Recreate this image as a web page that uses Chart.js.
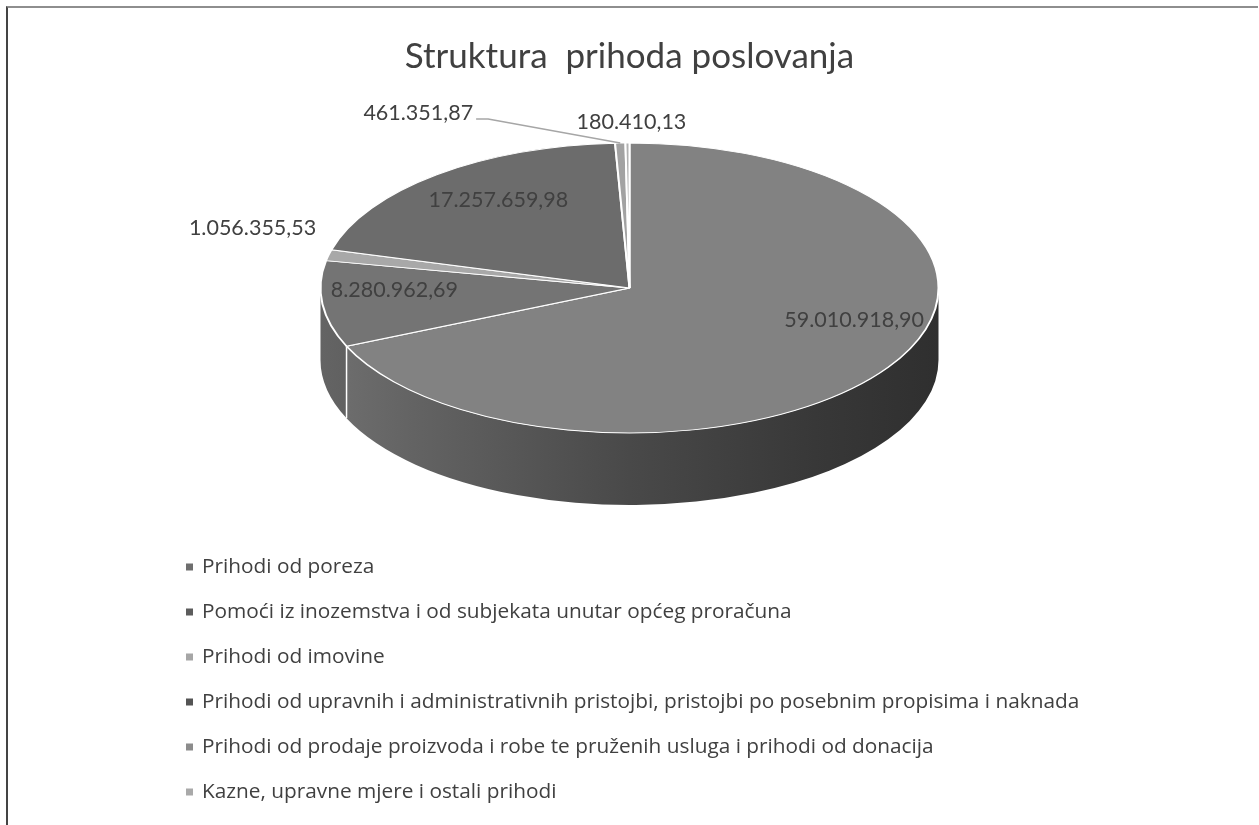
<!DOCTYPE html>
<html><head><meta charset="utf-8">
<script src="https://cdn.jsdelivr.net/npm/chart.js@4/dist/chart.umd.min.js"></script>
<style>
html,body{margin:0;padding:0;background:#fff;}
#wrap{position:relative;width:1259px;height:825px;overflow:hidden;}
#frame{position:absolute;left:6px;top:6px;right:1px;bottom:-4px;border-top:2px solid #8e8e8e;border-left:2px solid #444;pointer-events:none;}
canvas{display:block;}
</style></head><body>
<div id="wrap"><canvas id="c" width="1259" height="825"></canvas><div id="frame"></div></div>
<script>
// ---- data ----
const categories = [
  'Prihodi od poreza',
  'Pomoći iz inozemstva i od subjekata unutar općeg proračuna',
  'Prihodi od imovine',
  'Prihodi od upravnih i administrativnih pristojbi, pristojbi po posebnim propisima i naknada',
  'Prihodi od prodaje proizvoda i robe te pruženih usluga i prihodi od donacija',
  'Kazne, upravne mjere i ostali prihodi'
];
const values = [59010918.90, 8280962.69, 1056355.53, 17257659.98, 461351.87, 180410.13];
const chartTitle = 'Struktura  prihoda poslovanja';

// ---- styles ----
const sliceColors  = ['#828282', '#747474', '#a8a8a8', '#6c6c6c', '#a2a2a2', '#b2b2b2'];
const legendColors = ['#6e6e6e', '#5c5c5c', '#a6a6a6', '#545454', '#8c8c8c', '#a9a9a9'];
const labelOffsets = [[-34, -47], [72, -14], [-76, -27], [62, 25], [-202, -30], [4, -21]];
const labelLeaders = [false, false, false, false, true, false];
const PIE_CY = 288, TILT = 145 / 309, DEPTH = 72, RADIUS = 309;
const FONT = 'Lato, "Open Sans", sans-serif';
const LEGEND_FONT = '"Open Sans", Lato, sans-serif';
const TEXT_COLOR = '#404040';

function fmt(v) {
  const [i, d] = v.toFixed(2).split('.');
  return i.replace(/\B(?=(\d{3})+(?!\d))/g, '.') + ',' + d;
}
function shade(hex, f) {
  const n = parseInt(hex.slice(1), 16);
  const c = Math.round(((n >> 16) & 255) * f);
  return 'rgb(' + c + ',' + c + ',' + c + ')';
}

let geom = null;
const pie3d = {
  id: 'pie3d',
  beforeDatasetsDraw(chart) {
    const ctx = chart.ctx;
    const meta = chart.getDatasetMeta(0);
    const p0 = meta.data[0].getProps(['x', 'y', 'outerRadius'], true);
    const cx = p0.x, cy0 = p0.y, r = p0.outerRadius, ry = r * TILT, cy = PIE_CY;
    geom = {cx, cy, r, ry};
    // side walls (front half only)
    meta.data.forEach((arc, i) => {
      const {startAngle, endAngle} = arc.getProps(['startAngle', 'endAngle'], true);
      const a1 = Math.max(startAngle, 0), a2 = Math.min(endAngle, Math.PI);
      if (a2 <= a1) return;
      const g = ctx.createLinearGradient(cx - r, 0, cx + r, 0);
      [[0, 0.86], [0.15, 0.76], [0.5, 0.56], [0.8, 0.43], [1, 0.36]].forEach(s => g.addColorStop(s[0], shade(sliceColors[i], s[1])));
      ctx.save();
      ctx.fillStyle = g;
      ctx.beginPath();
      ctx.ellipse(cx, cy, r, ry, 0, a1, a2, false);
      ctx.ellipse(cx, cy + DEPTH, r, ry, 0, a2, a1, true);
      ctx.closePath();
      ctx.fill();
      ctx.restore();
    });
    // white edges between side walls
    meta.data.forEach((arc) => {
      const {startAngle} = arc.getProps(['startAngle'], true);
      if (startAngle > 0 && startAngle < Math.PI) {
        const x = cx + r * Math.cos(startAngle), y = cy + ry * Math.sin(startAngle);
        ctx.save();
        ctx.strokeStyle = '#ffffff';
        ctx.lineWidth = 1.5;
        ctx.beginPath();
        ctx.moveTo(x, y);
        ctx.lineTo(x, y + DEPTH);
        ctx.stroke();
        ctx.restore();
      }
    });
    ctx.save();
    ctx.translate(0, cy);
    ctx.scale(1, TILT);
    ctx.translate(0, -cy0);
  },
  afterDatasetsDraw(chart) {
    const ctx = chart.ctx;
    ctx.restore();
    const {cx, cy, r, ry} = geom;
    const meta = chart.getDatasetMeta(0);
    ctx.save();
    ctx.font = '21.5px ' + FONT;
    ctx.fillStyle = TEXT_COLOR;
    ctx.textAlign = 'center';
    ctx.textBaseline = 'middle';
    meta.data.forEach((arc, i) => {
      const {startAngle, endAngle} = arc.getProps(['startAngle', 'endAngle'], true);
      const m = (startAngle + endAngle) / 2;
      const rx0 = cx + r * Math.cos(m), ry0 = cy + ry * Math.sin(m);
      const lx = rx0 + labelOffsets[i][0], ly = ry0 + labelOffsets[i][1];
      const txt = fmt(values[i]);
      ctx.fillText(txt, lx, ly);
      if (labelLeaders[i]) {
        const w = ctx.measureText(txt).width;
        const sx = lx + w / 2 + 3, sy = ly + 6;
        ctx.save();
        ctx.strokeStyle = '#a6a6a6';
        ctx.lineWidth = 1.5;
        ctx.beginPath();
        ctx.moveTo(sx, sy);
        ctx.lineTo(sx + 12, sy);
        ctx.lineTo(rx0, ry0);
        ctx.stroke();
        ctx.restore();
      }
    });
    ctx.restore();
  },
  afterDraw(chart) {
    const ctx = chart.ctx;
    ctx.save();
    ctx.font = '20.8px ' + LEGEND_FONT;
    ctx.textAlign = 'left';
    ctx.textBaseline = 'middle';
    categories.forEach((c, i) => {
      const y = 567 + i * 45;
      ctx.fillStyle = legendColors[i];
      ctx.fillRect(186, y - 3.5, 7, 7);
      ctx.fillStyle = TEXT_COLOR;
      ctx.fillText(c, 202, y);
    });
    ctx.restore();
  }
};

new Chart(document.getElementById('c'), {
  type: 'pie',
  data: {
    labels: categories,
    datasets: [{
      data: values,
      backgroundColor: sliceColors,
      borderColor: '#ffffff',
      borderWidth: 2,
      radius: RADIUS,
      clip: false
    }]
  },
  options: {
    responsive: false,
    animation: false,
    devicePixelRatio: 1,
    layout: {padding: 0},
    events: [],
    plugins: {
      legend: {display: false},
      tooltip: {enabled: false},
      title: {
        display: true,
        text: chartTitle,
        color: TEXT_COLOR,
        font: {family: FONT, size: 35, weight: 'normal'},
        padding: {top: 36, bottom: 10}
      }
    }
  },
  plugins: [pie3d]
});
</script>
</body></html>
